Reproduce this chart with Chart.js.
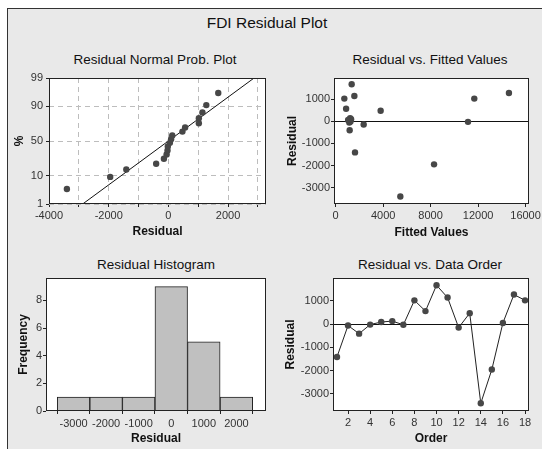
<!DOCTYPE html>
<html>
<head>
<meta charset="utf-8">
<script src="https://cdn.jsdelivr.net/npm/chart.js@4.4.1/dist/chart.umd.min.js"></script>
<style>
  html, body { margin: 0; padding: 0; background: #fff; }
  #wrap { position: relative; width: 542px; height: 449px; overflow: hidden; font-family: "Liberation Sans", Arial, sans-serif; }
  #panel { position: absolute; left: 7px; top: 8px; width: 540px; height: 450px; background: #e9e9e9; border-left: 1px solid #333; border-top: 1px solid #333; }
  .ttl { position: absolute; line-height: 1; white-space: nowrap; color: #111; transform: translateX(-50%); font-size: 13.5px; }
  canvas { position: absolute; }
</style>
</head>
<body>
<div id="wrap">
  <div id="panel"></div>
  <div class="ttl" style="left:267px; top:15px; font-size:15.5px;">FDI Residual Plot</div>
  <div class="ttl" style="left:155px; top:53px;">Residual Normal Prob. Plot</div>
  <div class="ttl" style="left:430px; top:53px;">Residual vs. Fitted Values</div>
  <div class="ttl" style="left:156px; top:258px;">Residual Histogram</div>
  <div class="ttl" style="left:430px; top:258px;">Residual vs. Data Order</div>
  <canvas id="c1" width="271" height="200" style="left:0; top:40px;"></canvas>
  <canvas id="c2" width="271" height="200" style="left:271px; top:40px;"></canvas>
  <canvas id="c3" width="271" height="209" style="left:0; top:240px;"></canvas>
  <canvas id="c4" width="271" height="209" style="left:271px; top:240px;"></canvas>
</div>
<script>
// 데이터 (관측 순서대로)
var orderNo = [1, 2, 3, 4, 5, 6, 7, 8, 9, 10, 11, 12, 13, 14, 15, 16, 17, 18];
var residuals = [-1410, -60, -410, -20, 90, 130, -30, 1020, 560, 1670, 1140, -150, 470, -3400, -1950, 50, 1270, 1020];
var fittedValues = [1630, 1150, 1180, 1250, 1300, 1220, 11150, 11680, 880, 1350, 1575, 2360, 3790, 5450, 8290, 1050, 14600, 730];

// 히스토그램 구간 중심
var histCenters = [-3000, -2000, -1000, 0, 1000, 2000];

// 눈금
var probPctTicks = [1, 10, 50, 90, 99];
var probXTicks = [-4000, -3000, -2000, -1000, 0, 1000, 2000, 3000];
var fitXTicks = [0, 4000, 8000, 12000, 16000];
var residTicks = [-3000, -2000, -1000, 0, 1000];
var histXTicks = [-3000, -2000, -1000, 0, 1000, 2000];
var histYTicks = [0, 2, 4, 6, 8];
var orderTicks = [2, 4, 6, 8, 10, 12, 14, 16, 18];

//정규 분위수 (Abramowitz-Stegun 근사)
function probit(p) {
  var q = p < 0.5 ? p : 1 - p;
  var t = Math.sqrt(-2 * Math.log(q));
  var z = t - (2.515517 + 0.802853 * t + 0.010328 * t * t) /
              (1 + 1.432788 * t + 0.189269 * t * t + 0.001308 * t * t * t);
  return p < 0.5 ? -z : z;
}

Chart.defaults.font.family = '"Liberation Sans", Arial, sans-serif';
Chart.defaults.font.size = 11;
Chart.defaults.color = '#333';
Chart.defaults.animation = false;
Chart.defaults.events = [];
Chart.defaults.plugins.legend.display = false;
Chart.defaults.plugins.tooltip.enabled = false;

var PT = '#474747';

//플롯 영역 배경, 0 기준선, 테두리
var framePlugin = {
  id: 'frame',
  beforeDraw: function(chart) {
    var a = chart.chartArea, ctx = chart.ctx;
    ctx.save();
    ctx.fillStyle = '#fff';
    ctx.fillRect(a.left, a.top, a.right - a.left, a.bottom - a.top);
    ctx.restore();
  },
  beforeDatasetsDraw: function(chart, args, opts) {
    if (!opts.zero) return;
    var a = chart.chartArea, ctx = chart.ctx;
    var y = Math.round(chart.scales.y.getPixelForValue(0)) + 0.5;
    ctx.save();
    ctx.strokeStyle = '#111';
    ctx.lineWidth = 1;
    ctx.beginPath();
    ctx.moveTo(a.left, y);
    ctx.lineTo(a.right, y);
    ctx.stroke();
    ctx.restore();
  },
  afterDraw: function(chart) {
    var a = chart.chartArea, ctx = chart.ctx;
    ctx.save();
    ctx.strokeStyle = '#222';
    ctx.lineWidth = 1;
    ctx.strokeRect(Math.round(a.left) + 0.5, Math.round(a.top) + 0.5,
                   Math.round(a.right - a.left) - 1, Math.round(a.bottom - a.top) - 1);
    ctx.restore();
  }
};

function numLabel(v) { return String(v); }

function axis(o) {
  var horiz = o.horiz;
  return {
    type: 'linear',
    min: o.min,
    max: o.max,
    offset: false,
    afterBuildTicks: function(s) {
      s.ticks = o.ticks.map(function(v) { return { value: v }; });
    },
    afterFit: function(s) {
      if (horiz) { s.height = o.size; } else { s.width = o.size; }
      s.paddingLeft = 0; s.paddingRight = 0; s.paddingTop = 0; s.paddingBottom = 0;
    },
    ticks: {
      autoSkip: false,
      maxRotation: 0,
      padding: o.pad,
      color: '#333',
      callback: o.label || numLabel
    },
    grid: o.grid || {
      drawOnChartArea: false,
      drawTicks: true,
      tickLength: 3,
      tickColor: '#222'
    },
    border: { display: false, dash: o.dash || [] },
    title: {
      display: true,
      text: o.title,
      color: '#111',
      font: { size: 12, weight: 'bold' },
      padding: horiz ? { top: 0, bottom: o.tpad } : { top: o.tpad, bottom: 0 }
    }
  };
}

//정규 확률도
var sorted = residuals.slice().sort(function(a, b) { return a - b; });
var n = sorted.length;
var probPts = sorted.map(function(r, i) {
  return { x: r, y: probit((i + 1 - 0.3) / (n + 0.4)) };
});
var mean = residuals.reduce(function(s, v) { return s + v; }, 0) / n;
var sd = Math.sqrt(residuals.reduce(function(s, v) { return s + (v - mean) * (v - mean); }, 0) / (n - 1));
var zLo = probit(probPctTicks[0] / 100), zHi = probit(probPctTicks[probPctTicks.length - 1] / 100);
var probZ = probPctTicks.map(function(p) { return probit(p / 100); });

var dashGrid = { color: '#bdbdbd', lineWidth: 1, drawTicks: true, tickLength: 3, tickColor: '#222' };

new Chart(document.getElementById('c1'), {
  type: 'scatter',
  data: {
    datasets: [{
      data: probPts,
      pointRadius: 3.2,
      pointBackgroundColor: PT,
      pointBorderWidth: 0
    }, {
      type: 'line',
      data: [{ x: mean + zLo * sd, y: zLo }, { x: mean + zHi * sd, y: zHi }],
      borderColor: '#111',
      borderWidth: 1,
      pointRadius: 0,
      fill: false
    }]
  },
  options: {
    responsive: false,
    layout: { padding: { left: 0, top: 38, right: 5, bottom: 0 } },
    plugins: { frame: {} },
    scales: {
      x: axis({ horiz: true, min: -4000, max: 3270, ticks: probXTicks, size: 36, pad: 2, tpad: 1,
                title: 'Residual', grid: dashGrid, dash: [5, 4],
                label: function(v) { return v % 2000 === 0 ? String(v) : ''; } }),
      y: axis({ horiz: false, min: zLo, max: zHi, ticks: probZ, size: 49, pad: 3, tpad: 12,
                title: '%', grid: dashGrid, dash: [5, 4],
                label: function(v, i) { return String(probPctTicks[i]); } })
    }
  },
  plugins: [framePlugin]
});

//잔차 대 적합치
new Chart(document.getElementById('c2'), {
  type: 'scatter',
  data: {
    datasets: [{
      data: fittedValues.map(function(f, i) { return { x: f, y: residuals[i] }; }),
      pointRadius: 3.2,
      pointBackgroundColor: PT,
      pointBorderWidth: 0
    }]
  },
  options: {
    responsive: false,
    layout: { padding: { left: 0, top: 38, right: 13, bottom: 0 } },
    plugins: { frame: { zero: true } },
    scales: {
      x: axis({ horiz: true, min: -140, max: 16290, ticks: fitXTicks, size: 36, pad: 2, tpad: 0, title: 'Fitted Values' }),
      y: axis({ horiz: false, min: -3740, max: 1950, ticks: residTicks, size: 63, pad: 1, tpad: 14, title: 'Residual' })
    }
  },
  plugins: [framePlugin]
});

//히스토그램
var histCounts = histCenters.map(function(c) {
  return residuals.filter(function(r) { return r >= c - 500 && r < c + 500; }).length;
});

new Chart(document.getElementById('c3'), {
  type: 'bar',
  data: {
    datasets: [{
      data: histCenters.map(function(c, i) { return { x: c, y: histCounts[i] }; }),
      backgroundColor: '#c0c0c0',
      borderColor: '#222',
      borderWidth: 1,
      barPercentage: 1,
      categoryPercentage: 1
    }]
  },
  options: {
    responsive: false,
    layout: { padding: { left: 0, top: 38, right: 5, bottom: 0 } },
    plugins: { frame: {} },
    scales: {
      x: axis({ horiz: true, min: -3846, max: 2909, ticks: histXTicks, size: 38, pad: 3, tpad: 3, title: 'Residual' }),
      y: axis({ horiz: false, min: 0, max: 9.62, ticks: histYTicks, size: 46, pad: 1, tpad: 16, title: 'Frequency' })
    }
  },
  plugins: [framePlugin]
});

//잔차 대 관측 순서
new Chart(document.getElementById('c4'), {
  type: 'scatter',
  data: {
    datasets: [{
      data: orderNo.map(function(o, i) { return { x: o, y: residuals[i] }; }),
      showLine: true,
      borderColor: '#222',
      borderWidth: 1,
      pointRadius: 3.2,
      pointBackgroundColor: PT,
      pointBorderWidth: 0
    }]
  },
  options: {
    responsive: false,
    layout: { padding: { left: 0, top: 38, right: 13, bottom: 0 } },
    plugins: { frame: { zero: true } },
    scales: {
      x: axis({ horiz: true, min: 0.64, max: 18.36, ticks: orderTicks, size: 38, pad: 2, tpad: 3, title: 'Order' }),
      y: axis({ horiz: false, min: -3730, max: 1980, ticks: residTicks, size: 62, pad: 1, tpad: 12, title: 'Residual' })
    }
  },
  plugins: [framePlugin]
});
</script>
</body>
</html>
